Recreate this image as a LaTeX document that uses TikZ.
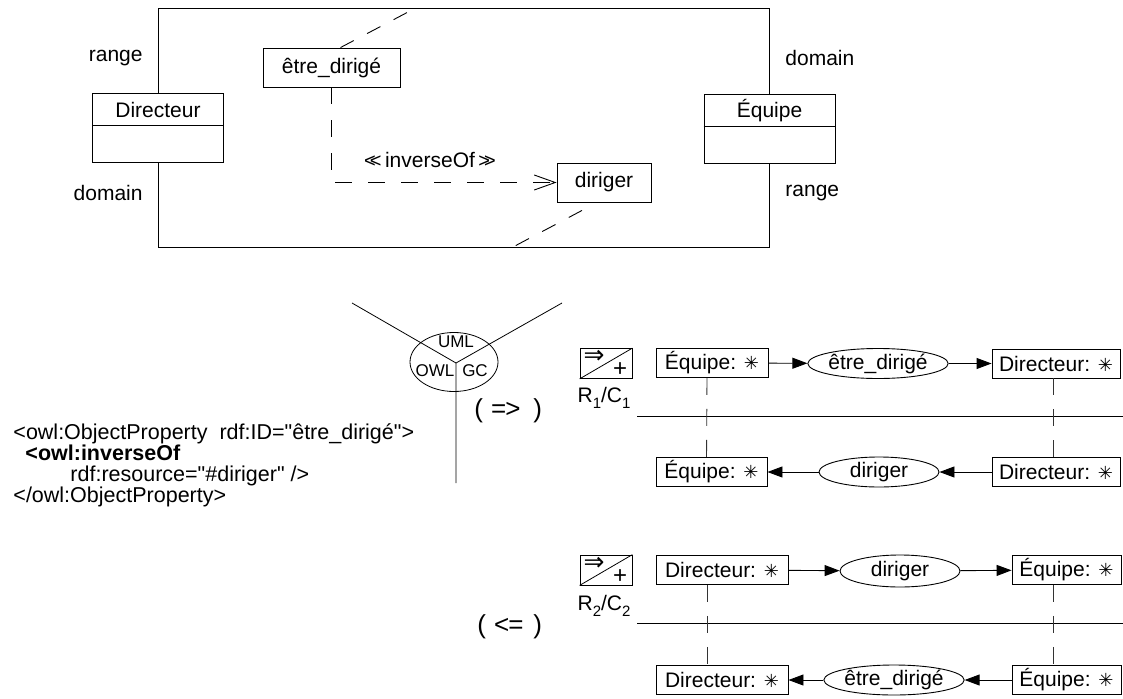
\documentclass[tikz,border=0pt]{standalone}
\usepackage{fontspec}
\setmainfont{Liberation Sans}
\newfontfamily\plainfont{Liberation Sans}
\newfontfamily\symfont{DejaVu Sans}
\usetikzlibrary{arrows.meta,shapes.geometric}
\newcommand{\starsym}{{\symfont\fontsize{18}{18}\selectfont ✳}}
\newcommand{\subnum}[1]{\raisebox{-6pt}{\fontsize{15}{15}\selectfont #1}}
\tikzset{
  lbl/.style={font=\fontsize{21}{25}\selectfont, inner sep=0pt},
  cls/.style={draw, fill=white, minimum width=131pt, minimum height=69pt, inner sep=0pt},
  prop/.style={draw, fill=white, inner sep=0pt, minimum height=39pt, font=\fontsize{21}{25}\selectfont},
  cg/.style={draw, fill=white, inner sep=0pt, minimum height=29pt, font=\fontsize{21}{24}\selectfont},
  rel/.style={draw, ellipse, inner sep=0pt, minimum height=30pt, font=\fontsize{21}{24}\selectfont},
  arr/.style={-{Triangle[length=15pt,width=11pt]}},
  vdash/.style={dash pattern=on 17pt off 14pt, draw=black!80},
  ddash/.style={dash pattern=on 15pt off 15pt},
  owl/.style={font=\plainfont\fontsize{21.5}{25}\selectfont, inner sep=0pt, anchor=base west},
  small/.style={font=\fontsize{17}{18}\selectfont, inner sep=0pt},
  icon/.style={draw, minimum width=52pt, minimum height=30pt, inner sep=0pt},
  impl/.style={font=\fontsize{26}{28}\selectfont, inner sep=0pt},
  arrsym/.style={inner sep=0pt, font=\symfont\fontsize{25}{25}\selectfont},
}
\begin{document}
\begin{tikzpicture}[x=1pt,y=-1pt,line width=0.9pt]
\useasboundingbox (0,0) rectangle (1123,698);

% ---------- top UML part ----------
\node[cls] (dir) at (158,127.5) {};
\node[cls] (equ) at (769.5,129) {};
\draw (dir.north) -- ++(0,-84) -| (equ.north);
\draw (dir.south) -- ++(0,85) -| (equ.south);
\draw ([yshift=-33pt]dir.north west) -- ([yshift=-33pt]dir.north east);
\draw ([yshift=-32pt]equ.north west) -- ([yshift=-32pt]equ.north east);
\node[lbl] (dirname) at (158,110) {Directeur};
\node[lbl] (equname) at (769.5,111) {Équipe};

\node[lbl, anchor=east] (rangeL) at (143,58) {range};
\node[lbl, anchor=east] (domainL) at (143,193) {domain};
\node[lbl, anchor=west] (domainR) at (785,58) {domain};
\node[lbl, anchor=west] (rangeR) at (785,193) {range};

\node[prop, minimum width=137pt] (etre) at (331.5,67.5) {être\_dirigé};
\node[prop, minimum width=94pt] (dirg) at (604,182.5) {diriger};

\coordinate (e1end) at (410,11);
\coordinate (e2end) at (513,247);
\draw[ddash] ([xshift=9pt]etre.north) -- (e1end);
\draw[ddash] ([xshift=-22pt,yshift=-8pt]dirg.south) -- (e2end);
\draw[dash pattern=on 17pt off 16pt, -{Straight Barb[length=21pt,width=15pt]}] (etre.south) |- (dirg.west);
\node[lbl] (inv) at (430,160) {{\fontsize{20}{20}\selectfont <\kern-6pt<}\,inverseOf\,{\fontsize{20}{20}\selectfont >\kern-6pt>}};

% ---------- tripod ----------
\coordinate (yc) at (456,363);
\coordinate (yl) at (352,303);
\coordinate (yr) at (562,303);
\coordinate (yb) at (456,483);
\draw[line width=0.8pt] (yc) -- (yl) (yc) -- (yr) (yc) -- (yb);
\node[draw, ellipse, line width=0.8pt, minimum width=88pt, minimum height=59pt, inner sep=0pt] (tri) at (454,362) {};
\node[small] (uml) at (456,342) {UML};
\node[small] (owlt) at (435,371) {OWL};
\node[small] (gct) at (475,371) {GC};

\node[impl, anchor=west] (impl1) at (474,411) {(\hspace{8pt}=\kern-1pt>\hspace{13pt})};
\node[impl, anchor=west] (impl2) at (477,627) {(\hspace{8pt}<\kern-1pt=\hspace{10pt})};

% ---------- OWL text ----------
\node[owl] (o1) at (13,439) {<owl:ObjectProperty \ rdf:ID="être\_dirigé">};
\node[owl] (o2) at (25,460) {\bfseries <owl:inverseOf};
\node[owl] (o3) at (70,481) {rdf:resource="\#diriger" />};
\node[owl] (o4) at (13,502) {</owl:ObjectProperty>};

% ---------- block 1 ----------
\node[icon, line width=0.8pt] (ic1) at (606,363.5) {};
\draw[line width=0.8pt] (ic1.south west) -- (ic1.north east);
\node[arrsym] (ic1a) at (594,357) {⇒};
\node[inner sep=0pt, font=\fontsize{24}{24}\selectfont] (ic1b) at (620,370) {+};
\node[inner sep=0pt, font=\fontsize{21}{24}\selectfont] (rc1) at (604,398) {R\subnum{1}/C\subnum{1}};

\node[cg, minimum width=112pt] (e1a) at (712,363) {Équipe: \starsym};
\node[rel, minimum width=120pt] (l1a) at (878,363.5) {être\_dirigé};
\node[cg, minimum width=128pt] (d1a) at (1056,363.5) {Directeur: \starsym};
\draw[arr] (e1a) -- (l1a);
\draw[arr] (l1a) -- (d1a);

\coordinate (s1) at (637,416);
\coordinate (s1e) at (1123,416);
\draw (s1) -- (s1e);

\node[cg, minimum width=111pt] (e1b) at (711.5,472) {Équipe: \starsym};
\node[rel, minimum width=120pt] (l1b) at (879,472) {diriger};
\node[cg, minimum width=128pt] (d1b) at (1056,472) {Directeur: \starsym};
\draw[arr] (d1b) -- (l1b);
\draw[arr] (l1b) -- (e1b);
\draw[vdash] ([xshift=-5pt]e1a.south) -- ([xshift=-5pt]e1b.north);
\draw[vdash] ([xshift=-3pt]d1a.south) -- ([xshift=-3pt]d1b.north);

% ---------- block 2 ----------
\node[icon, line width=0.8pt] (ic2) at (606,570) {};
\draw[line width=0.8pt] (ic2.south west) -- (ic2.north east);
\node[arrsym] (ic2a) at (594,563.5) {⇒};
\node[inner sep=0pt, font=\fontsize{24}{24}\selectfont] (ic2b) at (620,576.5) {+};
\node[inner sep=0pt, font=\fontsize{21}{24}\selectfont] (rc2) at (604,606) {R\subnum{2}/C\subnum{2}};

\node[cg, minimum width=132pt] (d2a) at (722,570) {Directeur: \starsym};
\node[rel, minimum width=120pt, minimum height=32pt] (l2a) at (900,571) {diriger};
\node[cg, minimum width=109pt] (e2a) at (1066.5,570) {Équipe: \starsym};
\draw[arr] (d2a) -- (l2a);
\draw[arr] (l2a) -- (e2a);

\coordinate (s2) at (637,623);
\coordinate (s2e) at (1123,623);
\draw (s2) -- (s2e);

\node[cg, minimum width=132pt] (d2b) at (722,680) {Directeur: \starsym};
\node[rel, minimum width=108pt] (l2b) at (894,680) {être\_dirigé};
\node[cg, minimum width=109pt] (e2b) at (1066.5,680) {Équipe: \starsym};
\draw[arr] (e2b) -- (l2b);
\draw[arr] (l2b) -- (d2b);
\draw[vdash] ([xshift=-15pt]d2a.south) -- ([xshift=-15pt]d2b.north);
\draw[vdash] ([xshift=-13.5pt]e2a.south) -- ([xshift=-13.5pt]e2b.north);
\end{tikzpicture}
\end{document}
